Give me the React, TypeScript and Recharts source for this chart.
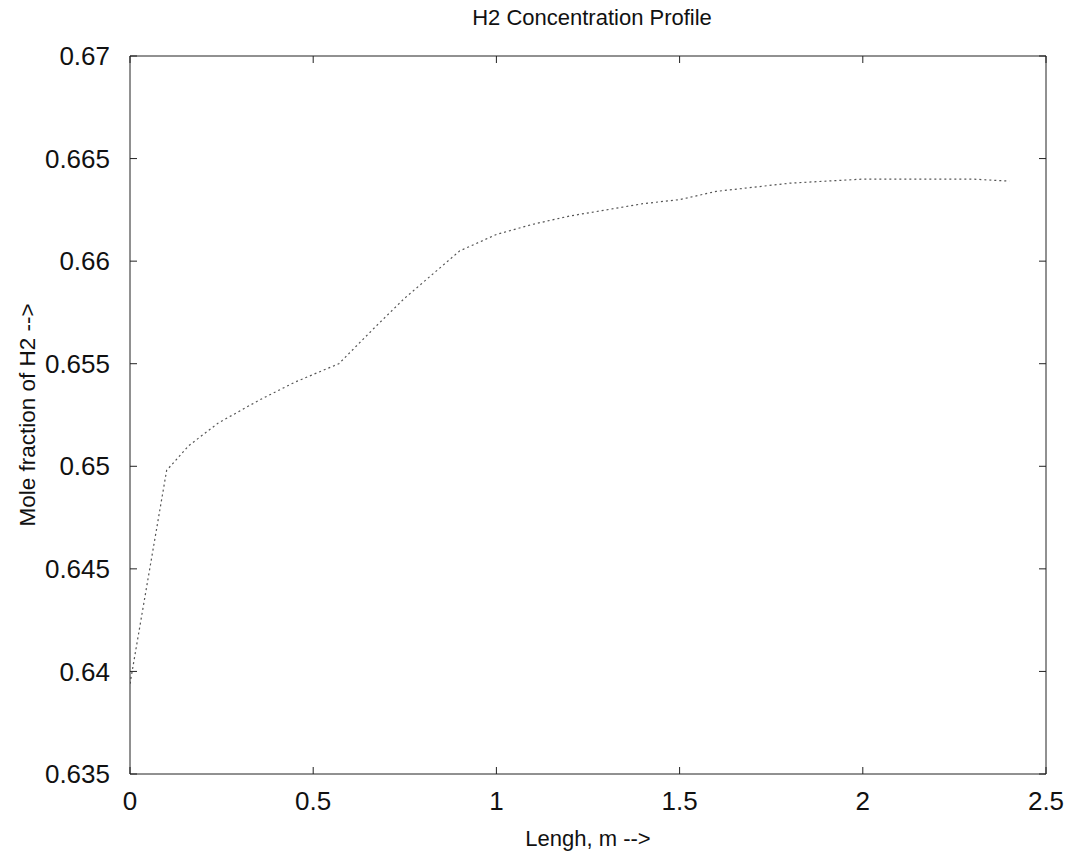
import { LineChart, Line, XAxis, YAxis, Label } from 'recharts'

// length along reactor (m)
const lengthM = [
  0, 0.1, 0.16, 0.24, 0.35, 0.45, 0.57, 0.67, 0.75, 0.9, 1.0, 1.1, 1.2,
  1.3, 1.4, 1.5, 1.6, 1.7, 1.8, 1.9, 2.0, 2.1, 2.2, 2.3, 2.4,
]
// mole fraction of H2
const h2Fraction = [
  0.6394, 0.6498, 0.651, 0.6521, 0.6532, 0.6541, 0.655, 0.6568, 0.6582,
  0.6605, 0.6613, 0.6618, 0.6622, 0.6625, 0.6628, 0.663, 0.6634, 0.6636,
  0.6638, 0.6639, 0.664, 0.664, 0.664, 0.664, 0.6639,
]
const xTicks = [0, 0.5, 1, 1.5, 2, 2.5]
const yTicks = [0.635, 0.64, 0.645, 0.65, 0.655, 0.66, 0.665, 0.67]

const data = lengthM.map((x, i) => ({ x, y: h2Fraction[i] }))

const W = 1077
const H = 852
const plot = { left: 130, top: 56, right: 1046, bottom: 774 }
const TICK_LEN = 7
const Y_GAP = 20
const X_GAP = 17

const font = 'Arial, "Liberation Sans", sans-serif'
const axisColor = '#222'
const tickFont = 26
const labelStyle = { fontSize: 22, fill: '#111', fontFamily: font }

// label plus inward tick marks on both sides (matlab-style box)
function YTick(props: any) {
  const { x, y, payload } = props
  const ax = x + Y_GAP
  return (
    <g>
      <line x1={ax} x2={ax + TICK_LEN} y1={y} y2={y} stroke={axisColor} />
      <line x1={plot.right} x2={plot.right - TICK_LEN} y1={y} y2={y} stroke={axisColor} />
      <text x={x} y={y} dy="0.35em" textAnchor="end" fontSize={tickFont} fill="#111" fontFamily={font}>
        {String(+Number(payload.value).toFixed(3))}
      </text>
    </g>
  )
}

function XTick(props: any) {
  const { x, y, payload } = props
  const ay = y - X_GAP
  return (
    <g>
      <line x1={x} x2={x} y1={ay} y2={ay - TICK_LEN} stroke={axisColor} />
      <line x1={x} x2={x} y1={plot.top} y2={plot.top + TICK_LEN} stroke={axisColor} />
      <text x={x} y={y} dy="0.74em" textAnchor="middle" fontSize={tickFont} fill="#111" fontFamily={font}>
        {String(payload.value)}
      </text>
    </g>
  )
}

export default function App() {
  return (
    <div style={{ position: 'absolute', left: 0, top: 0, width: W, height: H, background: '#fff' }}>
      <div
        style={{
          position: 'absolute', left: 134, width: 916, top: 5, textAlign: 'center',
          fontFamily: font, fontSize: 22, color: '#111',
        }}
      >
        H2 Concentration Profile
      </div>
      <LineChart
        width={W}
        height={H}
        data={data}
        margin={{ top: plot.top, right: W - plot.right, bottom: 0, left: 0 }}
      >
        <XAxis
          dataKey="x"
          type="number"
          domain={[0, 2.5]}
          ticks={xTicks}
          allowDataOverflow
          height={H - plot.bottom}
          tickSize={0}
          tickMargin={X_GAP}
          tickLine={false}
          tick={<XTick />}
          stroke={axisColor}
        >
          <Label value="Lengh, m -->" position="insideBottom" offset={6} style={labelStyle} />
        </XAxis>
        {/* top border */}
        <XAxis
          xAxisId="top"
          orientation="top"
          mirror
          dataKey="x"
          type="number"
          domain={[0, 2.5]}
          tick={false}
          tickLine={false}
          stroke={axisColor}
        />
        <YAxis
          type="number"
          domain={[0.635, 0.67]}
          ticks={yTicks}
          allowDataOverflow
          width={plot.left}
          tickSize={0}
          tickMargin={Y_GAP}
          tickLine={false}
          tick={<YTick />}
          stroke={axisColor}
        >
          <Label
            value="Mole fraction of H2 -->"
            angle={-90}
            position="insideLeft"
            offset={27}
            style={{ ...labelStyle, fontSize: 22.5, textAnchor: 'middle' }}
          />
        </YAxis>
        {/* right border */}
        <YAxis
          yAxisId="right"
          orientation="right"
          mirror
          type="number"
          domain={[0.635, 0.67]}
          tick={false}
          tickLine={false}
          stroke={axisColor}
        />
        <Line
          dataKey="y"
          type="linear"
          stroke="#555"
          strokeWidth={1.2}
          strokeDasharray="2 3"
          dot={false}
          isAnimationActive={false}
        />
      </LineChart>
    </div>
  )
}
